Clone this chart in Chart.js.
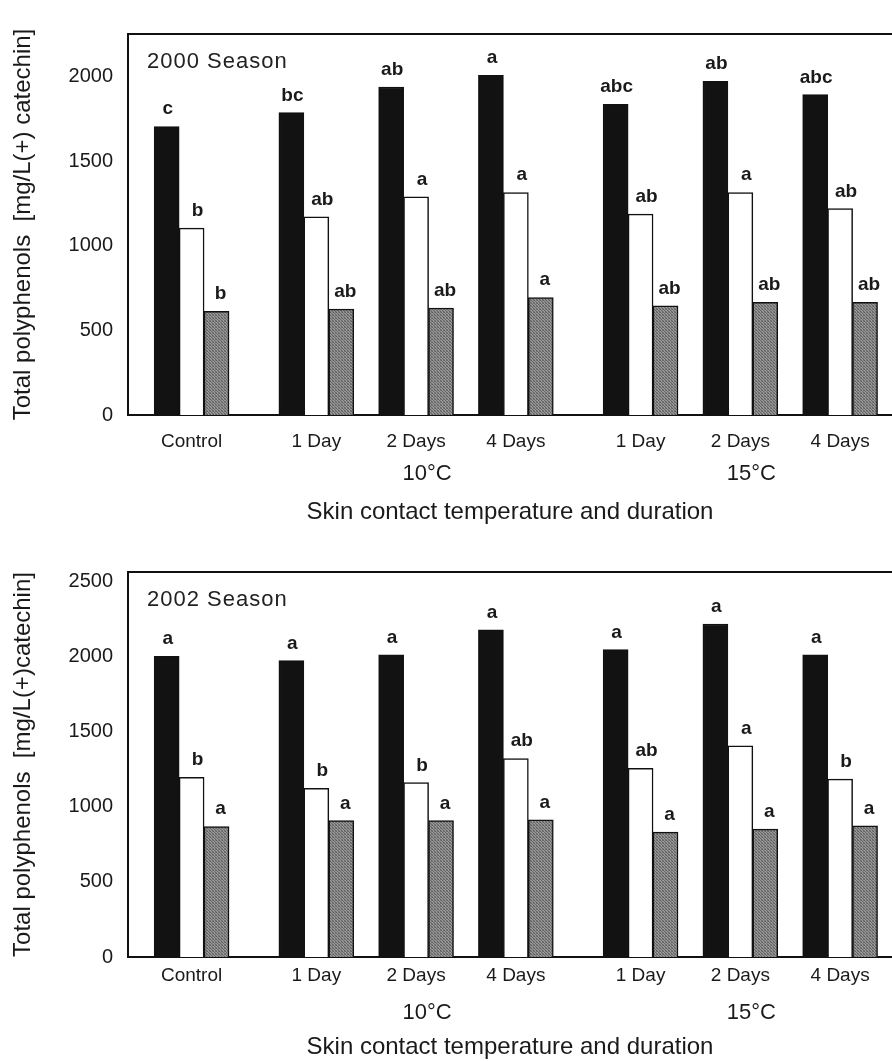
<!DOCTYPE html>
<html>
<head>
<meta charset="utf-8">
<script src="https://cdn.jsdelivr.net/npm/chart.js@4.4.0/dist/chart.umd.min.js"></script>
<style>
  html, body { margin: 0; padding: 0; background: #fff; overflow: hidden; }
  #c2000 { position: absolute; left: 0; top: 0; }
  #c2002 { position: absolute; left: 0; top: 540px; }
</style>
</head>
<body>
<canvas id="c2000" width="892" height="535"></canvas>
<canvas id="c2002" width="892" height="521"></canvas>
<script>
// treatments (x) and temperatures under them
const groups = ["Control", "1 Day", "2 Days", "4 Days", "1 Day", "2 Days", "4 Days"];
const temps = ["10°C", "15°C"];

// 2000 season, three bars per treatment
const black2000 = [1704, 1786, 1937, 2006, 1835, 1970, 1892];
const white2000 = [1104, 1170, 1288, 1314, 1186, 1314, 1219];
const gray2000  = [612, 625, 632, 694, 645, 665, 665];
const sigBlack2000 = ["c", "bc", "ab", "a", "abc", "ab", "abc"];
const sigWhite2000 = ["b", "ab", "a", "a", "ab", "a", "ab"];
const sigGray2000  = ["b", "ab", "ab", "a", "ab", "ab", "ab"];

// 2002 season
const black2002 = [2000, 1971, 2009, 2175, 2044, 2214, 2009];
const white2002 = [1195, 1122, 1159, 1320, 1254, 1404, 1183];
const gray2002  = [868, 907, 907, 912, 830, 850, 872];
const sigBlack2002 = ["a", "a", "a", "a", "a", "a", "a"];
const sigWhite2002 = ["b", "b", "b", "ab", "ab", "a", "b"];
const sigGray2002  = ["a", "a", "a", "a", "a", "a", "a"];

const yTicks2000 = [0, 500, 1000, 1500, 2000];
const yTicks2002 = [0, 500, 1000, 1500, 2000, 2500];

// spacing of the groups along x (gap slots between treatments)
const groupPos = [0, 5, 9, 13, 18, 22, 26];
const tempPos = [groupPos[2], groupPos[5]];

Chart.defaults.font.family = "'Liberation Sans', Arial, sans-serif";
Chart.defaults.color = "#1a1a1a";

function stipple() {
    const c = document.createElement("canvas");
    c.width = 3; c.height = 3;
    const g = c.getContext("2d");
    const shades = ["#5e5e5e", "#959595", "#7a7a7a", "#9e9e9e", "#696969", "#8c8c8c", "#818181", "#999999", "#636363"];
    shades.forEach((s, i) => { g.fillStyle = s; g.fillRect(i % 3, Math.floor(i / 3), 1, 1); });
    return g.createPattern(c, "repeat");
}

const letterPlugin = {
    id: "sigLetters",
    afterDatasetsDraw(chart) {
        const ctx = chart.ctx;
        ctx.save();
        ctx.font = "bold 19px 'Liberation Sans', Arial, sans-serif";
        ctx.fillStyle = "#1a1a1a";
        ctx.textAlign = "center";
        ctx.textBaseline = "alphabetic";
        chart.data.datasets.forEach((ds, i) => {
            chart.getDatasetMeta(i).data.forEach((el, j) => {
                ctx.fillText(ds.letters[j], el.x + ds.letterDx, el.y - 12);
            });
        });
        ctx.restore();
    }
};

const seasonPlugin = {
    id: "season",
    afterDraw(chart, args, opts) {
        const ctx = chart.ctx, area = chart.chartArea;
        ctx.save();
        ctx.font = "22px 'Liberation Sans', Arial, sans-serif";
        ctx.letterSpacing = "1px";
        ctx.fillStyle = "#222";
        ctx.textBaseline = "middle";
        ctx.fillText(opts.text, area.left + 19, area.top + 28);
        ctx.restore();
    }
};

function barSet(values, letters, fill, dx, shift) {
    return {
        data: values.map((v, i) => ({ x: groupPos[i] + shift, y: v })),
        backgroundColor: fill,
        borderColor: "#111",
        borderWidth: 1.5,
        barThickness: 25,
        grouped: false,
        letters: letters,
        letterDx: dx
    };
}

function makeChart(id, s) {
    const xMin = -2.55, xMax = 28.08;
    new Chart(document.getElementById(id), {
        type: "bar",
        data: {
            datasets: [
                barSet(s.black, s.sigBlack, "#121212", 1, -1),
                barSet(s.white, s.sigWhite, "#ffffff", 6, 0),
                barSet(s.gray, s.sigGray, stipple(), 4, 1)
            ]
        },
        options: {
            responsive: false,
            animation: false,
            layout: { padding: { top: s.padTop, bottom: s.padBottom, left: 0, right: 0 } },
            plugins: {
                legend: { display: false },
                tooltip: { enabled: false },
                season: { text: s.season }
            },
            scales: {
                x: {
                    type: "linear", min: xMin, max: xMax, offset: false, position: "bottom", weight: 0,
                    grid: { display: false, drawTicks: false },
                    border: { color: "#111", width: 2 },
                    afterBuildTicks: a => { a.ticks = groupPos.map(v => ({ value: v })); },
                    afterFit: a => { a.height = s.hx; },
                    ticks: {
                        font: { size: 19 }, padding: s.p1, autoSkip: false, maxRotation: 0,
                        callback: (v, i) => groups[i]
                    }
                },
                x3: {
                    type: "linear", min: xMin, max: xMax, offset: false, position: "bottom", weight: 1,
                    grid: { display: false, drawTicks: false },
                    border: { display: false },
                    afterBuildTicks: a => { a.ticks = tempPos.map(v => ({ value: v })); },
                    afterFit: a => { a.height = s.h3; },
                    ticks: {
                        font: { size: 22 }, padding: 4, labelOffset: 11, autoSkip: false, maxRotation: 0,
                        callback: (v, i) => temps[i]
                    },
                    title: {
                        display: true,
                        text: "Skin contact temperature and duration",
                        font: { size: 24, lineHeight: 1 },
                        padding: { top: 0, bottom: 0 }
                    }
                },
                x2: {
                    type: "linear", min: xMin, max: xMax, offset: false, position: "top", display: true,
                    grid: { display: false, drawTicks: false },
                    border: { color: "#111", width: 2 },
                    ticks: { display: false }
                },
                y: {
                    min: 0, max: s.yMax,
                    afterBuildTicks: a => { a.ticks = s.yTicks.map(v => ({ value: v })); },
                    afterFit: a => { a.width = 128; },
                    grid: { display: false, drawTicks: false },
                    border: { color: "#111", width: 2 },
                    ticks: { font: { size: 20 }, padding: 15, callback: v => String(v) },
                    title: {
                        display: true,
                        text: s.yTitle,
                        font: { size: 24 },
                        padding: { top: 9, bottom: 0 }
                    }
                }
            }
        },
        plugins: [letterPlugin, seasonPlugin]
    });
}

makeChart("c2000", {
    black: black2000, white: white2000, gray: gray2000,
    sigBlack: sigBlack2000, sigWhite: sigWhite2000, sigGray: sigGray2000,
    yMax: 2250, yTicks: yTicks2000, season: "2000 Season",
    yTitle: "Total polyphenols  [mg/L(+) catechin]",
    padTop: 34, padBottom: 11, p1: 15, hx: 42, h3: 67
});

makeChart("c2002", {
    black: black2002, white: white2002, gray: gray2002,
    sigBlack: sigBlack2002, sigWhite: sigWhite2002, sigGray: sigGray2002,
    yMax: 2560, yTicks: yTicks2002, season: "2002 Season",
    yTitle: "Total polyphenols  [mg/L(+)catechin]",
    padTop: 32, padBottom: 2, p1: 7, hx: 39, h3: 63
});
</script>
</body>
</html>
